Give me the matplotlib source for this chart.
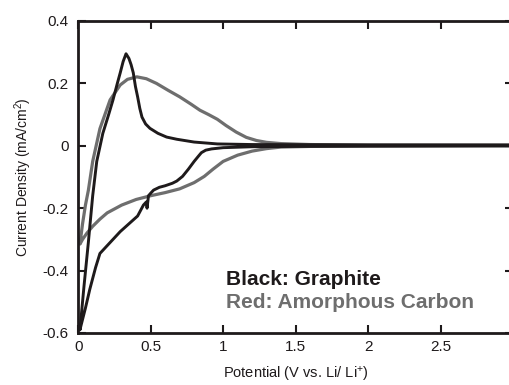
import matplotlib
matplotlib.use("Agg")
import matplotlib.pyplot as plt

# Graphite (black) CV: cathodic sweep then anodic sweep
graphite_v = [3.0, 2.0, 1.5, 1.2, 1.0, 0.92, 0.88, 0.85, 0.83, 0.8, 0.76, 0.72, 0.68, 0.65,
              0.6, 0.56, 0.52, 0.5, 0.485, 0.475, 0.47, 0.45, 0.41, 0.35, 0.29, 0.23, 0.17,
              0.15, 0.12, 0.08, 0.05, 0.02, 0.012,
              0.04, 0.07, 0.1, 0.128, 0.17, 0.21, 0.24, 0.27, 0.29, 0.31, 0.33, 0.35, 0.365,
              0.38, 0.395, 0.41, 0.425, 0.44, 0.465, 0.495, 0.55, 0.61, 0.68, 0.8, 0.96, 1.2,
              2.0, 3.0]
graphite_i = [0.0, -0.001, -0.002, -0.003, -0.006, -0.01, -0.014, -0.022, -0.033, -0.05, -0.075,
              -0.098, -0.113, -0.12, -0.128, -0.133, -0.142, -0.152, -0.16, -0.2, -0.18, -0.19,
              -0.225, -0.25, -0.275, -0.305, -0.335, -0.345, -0.39, -0.46, -0.52, -0.575, -0.59,
              -0.45, -0.31, -0.16, -0.05, 0.04, 0.1, 0.147, 0.2, 0.234, 0.27, 0.295, 0.28, 0.26,
              0.234, 0.19, 0.157, 0.12, 0.092, 0.07, 0.056, 0.04, 0.028, 0.021, 0.012, 0.006,
              0.004, 0.003, 0.003]

# Amorphous carbon (grey) CV
carbon_v = [3.0, 2.0, 1.6, 1.4, 1.3, 1.2, 1.1, 1.0, 0.93, 0.87, 0.8, 0.7, 0.6, 0.5, 0.4, 0.3,
            0.2, 0.15, 0.1, 0.06, 0.03, 0.012,
            0.03, 0.05, 0.07, 0.1, 0.15, 0.22, 0.29, 0.34, 0.405, 0.47, 0.54, 0.62, 0.7, 0.78,
            0.84, 0.9, 0.96, 1.02, 1.09, 1.16, 1.23, 1.3, 1.4, 1.6, 2.0, 3.0]
carbon_i = [0.0, -0.001, -0.002, -0.004, -0.009, -0.017, -0.03, -0.05, -0.075, -0.098, -0.118,
            -0.138, -0.15, -0.16, -0.172, -0.19, -0.215, -0.235, -0.258, -0.28, -0.3, -0.315,
            -0.25, -0.19, -0.143, -0.05, 0.055, 0.147, 0.195, 0.213, 0.221, 0.215, 0.2, 0.178,
            0.157, 0.133, 0.114, 0.1, 0.085, 0.065, 0.044, 0.027, 0.017, 0.011, 0.007, 0.004,
            0.002, 0.001]

xticks = [0, 0.5, 1, 1.5, 2, 2.5, 3]
xtick_labels = ["0", "0.5", "1", "1.5", "2", "2.5", "3"]
yticks = [-0.6, -0.4, -0.2, 0, 0.2, 0.4]
ytick_labels = ["-0.6", "-0.4", "-0.2", "0", "0.2", "0.4"]

plt.rcParams['font.family'] = ['Liberation Sans', 'DejaVu Sans']
plt.rcParams['mathtext.fontset'] = 'custom'
plt.rcParams['mathtext.rm'] = 'Liberation Sans'
plt.rcParams['mathtext.it'] = 'Liberation Sans:italic'
plt.rcParams['mathtext.bf'] = 'Liberation Sans:bold'

fig = plt.figure(figsize=(5.1, 3.85), dpi=100)
ax = fig.add_axes([78.2 / 510, 1 - 333 / 385, (513 - 78.2) / 510, (333 - 21) / 385])

ax.plot(carbon_v, carbon_i, color='#6e6e6e', lw=2.3, solid_joinstyle='round', zorder=2)
ax.plot(graphite_v, graphite_i, color='#1e1a1b', lw=2.1, solid_joinstyle='round', zorder=3)

ax.set_xlim(0, 3)
ax.set_ylim(-0.6, 0.4)
ax.set_xticks(xticks)
ax.set_xticklabels(xtick_labels)
ax.set_yticks(yticks)
ax.set_yticklabels(ytick_labels)
ax.tick_params(direction='in', length=6, width=1.5, top=True, right=True,
               labelsize=11, colors='#1e1a1b')
ax.tick_params(axis='y', pad=7)
ax.tick_params(axis='x', pad=5)
for s in ax.spines.values():
    s.set_linewidth(2.0)
    s.set_color('#1e1a1b')

ax.set_xlabel('Potential (V vs. Li/ Li$^{\\mathrm{+}}$)', fontsize=10.5, labelpad=8, color='#1e1a1b')
ax.set_ylabel('Current Density (mA/cm$^{\\mathrm{2}}$)', fontsize=10, labelpad=6, color='#1e1a1b')

ax.text(1.02, -0.428, 'Black: Graphite', fontsize=15, fontweight='bold',
        color='#1e1a1b', va='center', ha='left')
ax.text(1.02, -0.502, 'Red: Amorphous Carbon', fontsize=15, fontweight='bold',
        color='#6e6e6e', va='center', ha='left')

fig.savefig('out.png', dpi=100)
